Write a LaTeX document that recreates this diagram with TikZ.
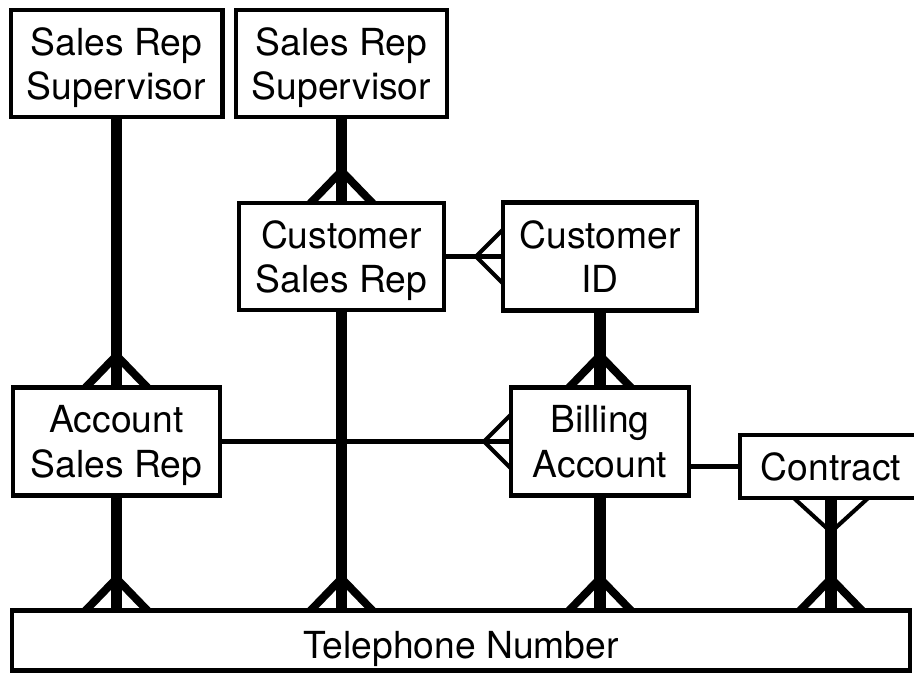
\documentclass[tikz,border=0pt]{standalone}
\usepackage{fontspec}
\setmainfont{TeX Gyre Heros}
\usetikzlibrary{calc,backgrounds}

\begin{document}
\begin{tikzpicture}[
  x=0.02cm, y=0.02cm,
  entity/.style={draw, line width=2.3pt, fill=white, inner sep=0pt, align=center, text depth=0pt, font=\fontsize{21.2}{25.2}\selectfont},
  link/.style={line width=6.3pt},
  thinlink/.style={line width=2.3pt},
  foot/.style={line width=4.5pt},
  thinfoot/.style={line width=2.3pt},
]
\useasboundingbox (0,0) rectangle (914,-673);

\node[entity, minimum width=4.24cm, minimum height=2.14cm] (sup1) at (116.5,-63.5) {Sales Rep\\Supervisor};
\node[entity, minimum width=4.22cm, minimum height=2.14cm] (sup2) at (341.5,-63.5) {Sales Rep\\Supervisor};
\node[entity, minimum width=4.10cm, minimum height=2.14cm] (csr) at (341.5,-256.5) {Customer\\Sales Rep};
\node[entity, minimum width=3.88cm, minimum height=2.16cm] (cid) at (600,-256.5) {Customer\\ID};
\node[entity, minimum width=4.14cm, minimum height=2.16cm] (asr) at (116.5,-441.5) {Account\\Sales Rep};
\node[entity, minimum width=3.56cm, minimum height=2.16cm] (bill) at (600,-441.5) {Billing\\Account};
\node[entity, minimum width=3.64cm, minimum height=1.26cm] (con) at (831,-466.5) {Contract};
\node[entity, minimum width=17.96cm, minimum height=1.20cm, text height=20pt] (tel) at (461,-640.5) {Telephone Number};

\coordinate (t1) at (asr.south |- tel.north);
\coordinate (t2) at (csr.south |- tel.north);
\coordinate (t3) at (bill.south |- tel.north);
\coordinate (t4) at (con.south |- tel.north);

\begin{scope}[on background layer]
% relationships
\draw[link] (sup1) -- (asr);
\draw[link] (sup2) -- (csr);
\draw[link] (cid) -- (bill);
\draw[link] (asr.south) -- (t1);
\draw[link] (csr.south) -- (t2);
\draw[link] (bill.south) -- (t3);
\draw[link] (con.south) -- (t4);
\draw[thinlink] (csr) -- (cid);
\draw[thinlink] (asr) -- (bill);
\draw[thinlink] (con.west) -- (con.west -| bill.east);

% crow's feet
\draw[foot] ($(asr.north)+(-33.8,-5)$) -- ($(asr.north)+(0,30)$) -- ($(asr.north)+(33.8,-5)$);
\draw[foot] ($(csr.north)+(-33.8,-5)$) -- ($(csr.north)+(0,30)$) -- ($(csr.north)+(33.8,-5)$);
\draw[foot] ($(bill.north)+(-33.8,-5)$) -- ($(bill.north)+(0,30)$) -- ($(bill.north)+(33.8,-5)$);
\draw[foot] ($(t1)+(-33.8,-5)$) -- ($(t1)+(0,30)$) -- ($(t1)+(33.8,-5)$);
\draw[foot] ($(t2)+(-33.8,-5)$) -- ($(t2)+(0,30)$) -- ($(t2)+(33.8,-5)$);
\draw[foot] ($(t3)+(-33.8,-5)$) -- ($(t3)+(0,30)$) -- ($(t3)+(33.8,-5)$);
\draw[foot] ($(t4)+(-33.8,-5)$) -- ($(t4)+(0,30)$) -- ($(t4)+(33.8,-5)$);
\draw[thinfoot] ($(con.south)+(-40.5,5)$) -- ($(con.south)+(0,-32)$) -- ($(con.south)+(40.5,5)$);
\draw[thinfoot] ($(cid.west)+(4,29)$) -- ($(cid.west)+(-25,0)$) -- ($(cid.west)+(4,-29)$);
\draw[thinfoot] ($(bill.west)+(4,29)$) -- ($(bill.west)+(-25,0)$) -- ($(bill.west)+(4,-29)$);
\end{scope}

\end{tikzpicture}
\end{document}
